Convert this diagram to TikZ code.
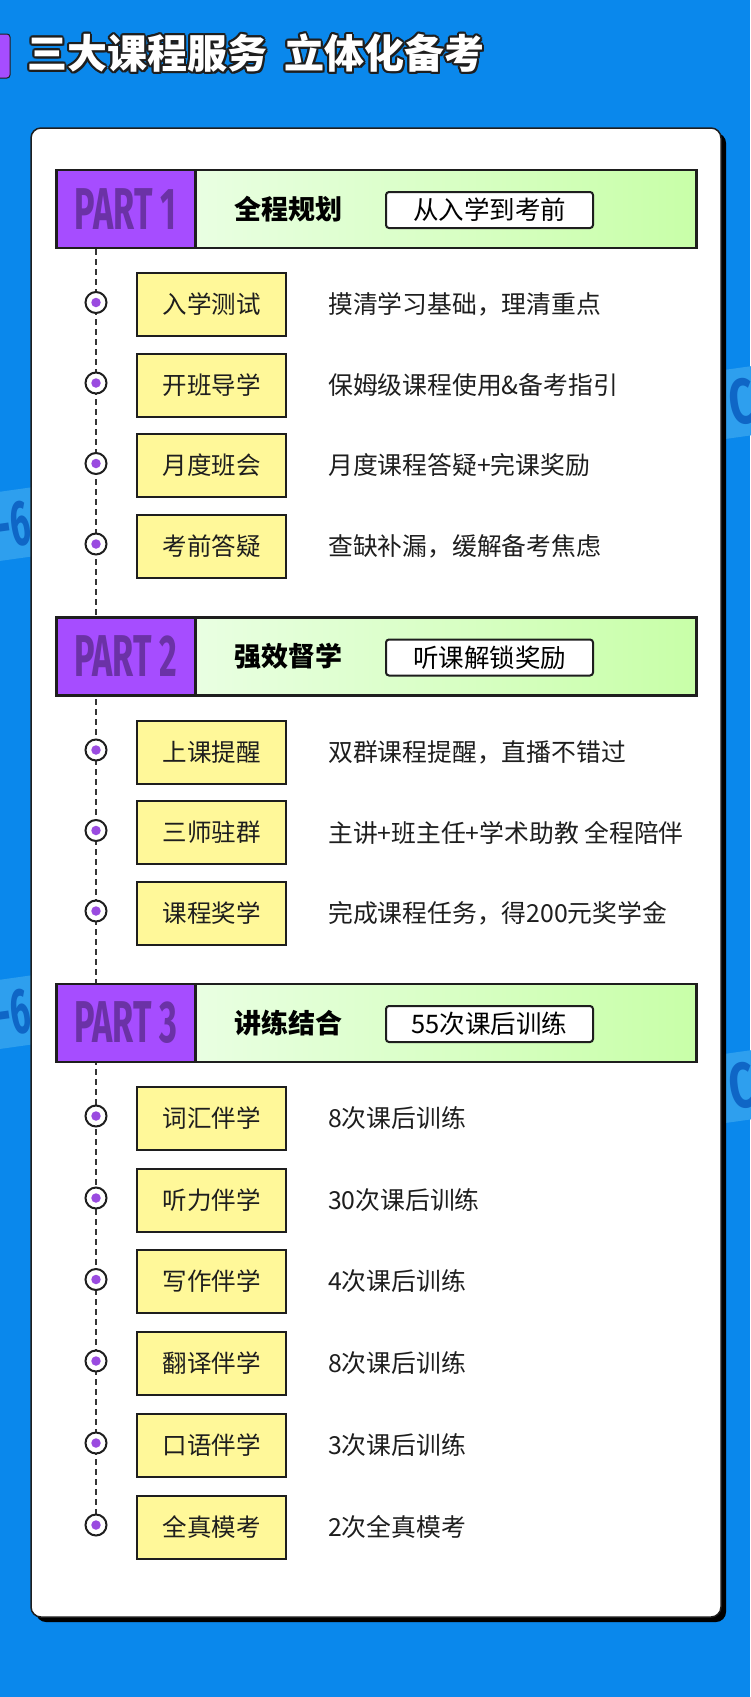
\documentclass[tikz,border=0pt]{standalone}
\usepackage{fontspec}
\usetikzlibrary{calc}
\setmainfont{Noto Sans CJK SC}
\newfontfamily\cjkblack{Noto Sans CJK SC Black}
\newfontfamily\partfont{Fira Sans}
\definecolor{bgblue}{HTML}{0A88EC}
\definecolor{bandblue}{HTML}{2E9FEE}
\definecolor{letterblue}{HTML}{0F66C6}
\definecolor{purp}{HTML}{A64DFF}
\definecolor{partdark}{HTML}{6B32A6}
\definecolor{ink}{HTML}{1E1E1E}
\definecolor{itemyellow}{HTML}{FFF899}
\definecolor{dotpurple}{HTML}{9A4BE0}
\definecolor{greenL}{HTML}{F2FFF2}
\definecolor{greenR}{HTML}{C8FFA8}
\pgfdeclarelayer{bg}
\pgfdeclarelayer{mid}
\pgfsetlayers{bg,mid,main}
\tikzset{
  itembox/.style={draw=ink, line width=2pt, fill=itemyellow, minimum width=149pt, minimum height=63pt, inner sep=0pt, font=\fontsize{24.5}{25}\selectfont, text=ink},
  desc/.style={anchor=west, inner sep=0pt, font=\fontsize{24.8}{25}\selectfont, text=ink},
  bulletout/.style={circle, draw=ink, line width=2pt, fill=white, minimum size=21pt, inner sep=0pt},
  bulletin/.style={circle, fill=dotpurple, minimum size=9.5pt, inner sep=0pt},
  barbox/.style={draw=ink, line width=2.5pt, left color=greenL, right color=greenR, minimum width=640pt, minimum height=78pt, inner sep=0pt},
  partbox/.style={draw=ink, line width=2.5pt, fill=purp, minimum width=139pt, minimum height=78pt, inner sep=0pt},
  parttext/.style={inner sep=0pt, text=partdark, font=\partfont\bfseries\fontsize{59}{59}\selectfont},
  bartitle/.style={anchor=west, inner sep=0pt, font=\bfseries\fontsize{27}{27}\selectfont, text=black},
  tagbox/.style={draw=ink, line width=2pt, fill=white, rounded corners=3pt, minimum width=207pt, minimum height=36pt, inner sep=0pt, font=\fontsize{25.5}{26}\selectfont, text=black},
  dashline/.style={draw=ink!90, line width=2pt, dash pattern=on 6pt off 4pt},
  band/.style={fill=bandblue, text=letterblue, rotate=8, inner xsep=8pt, inner ysep=11pt, font=\partfont\bfseries\fontsize{64}{64}\selectfont},
  titletext/.style={anchor=west, inner sep=0pt, font=\cjkblack\fontsize{40}{40}\selectfont},
}
\newcommand\itemrow[4]{%
  \node[itembox] (box#1) at (211.5,#2) {#3};
  \node[bulletout] (dot#1) at (96,#2-2) {};
  \node[bulletin] (in#1) at (dot#1.center) {};
  \node[desc] (desc#1) at (328,#2) {#4};
}
\newcommand\titlestr{三大课程服务\hspace{17pt}立体化备考}
\begin{document}
\begin{tikzpicture}[x=1pt,y=-1pt]
\useasboundingbox (0,0) rectangle (750,1697);
\begin{pgfonlayer}{bg}
  \fill[bgblue] (0,0) rectangle (750,1697);
  % background stamps
  \node[band, anchor=west] (st1) at (721,405) {\scalebox{0.68}[1]{CET-6}};
  \node[band, anchor=east] (st2) at (38,521) {\scalebox{0.55}[1]{CET-6}};
  \node[band, anchor=east] (st3) at (38,1009) {\scalebox{0.55}[1]{CET-6}};
  \node[band, anchor=west] (st4) at (721,1089) {\scalebox{0.68}[1]{CET-6}};
  % card
  \fill[black, rounded corners=10pt] (36,133) rectangle (726,1622);
  \draw[ink, line width=1.5pt, fill=white, rounded corners=10pt] (31,128) rectangle (721,1617);
\end{pgfonlayer}
% title tab and title
\draw[ink, line width=1pt, fill=purp, rounded corners=3pt] (-6,34) rectangle (10,78);
\node[titletext, text=ink] (tshadow) at (29.5,55.5) {\titlestr};
\foreach \a in {0,30,...,330}{
  \node[titletext, text=ink] (tsh\a) at ($(27,53)+(\a:1.8)$) {\titlestr};
}
\node[titletext, text=white] (title) at (27,53) {\titlestr};

% PART 1
\node[barbox, anchor=west] (bar1) at (55,209) {};
\node[partbox, anchor=west] (part1) at (55,209) {};
\node[parttext] (pt1) at (part1.center) {\scalebox{0.58}[1]{PART 1}};
\node[bartitle] (ttl1) at (234,209) {全程规划};
\node[tagbox] (tag1) at (489.5,210) {从入学到考前};
\itemrow{11}{304.5}{入学测试}{摸清学习基础，理清重点}
\itemrow{12}{385}{开班导学}{保姆级课程使用\&备考指引}
\itemrow{13}{465.5}{月度班会}{月度课程答疑+完课奖励}
\itemrow{14}{546}{考前答疑}{查缺补漏，缓解备考焦虑}

% PART 2
\node[barbox, anchor=west] (bar2) at (55,656.5) {};
\node[partbox, anchor=west] (part2) at (55,656.5) {};
\node[parttext] (pt2) at (part2.center) {\scalebox{0.58}[1]{PART 2}};
\node[bartitle] (ttl2) at (234,656.5) {强效督学};
\node[tagbox] (tag2) at (489.5,657.5) {听课解锁奖励};
\itemrow{21}{752}{上课提醒}{双群课程提醒，直播不错过}
\itemrow{22}{832.5}{三师驻群}{主讲+班主任+学术助教 全程陪伴}
\itemrow{23}{913}{课程奖学}{完成课程任务，得200元奖学金}

% PART 3
\node[barbox, anchor=west] (bar3) at (55,1023) {};
\node[partbox, anchor=west] (part3) at (55,1023) {};
\node[parttext] (pt3) at (part3.center) {\scalebox{0.58}[1]{PART 3}};
\node[bartitle] (ttl3) at (234,1023) {讲练结合};
\node[tagbox] (tag3) at (489.5,1024) {55次课后训练};
\itemrow{31}{1118}{词汇伴学}{8次课后训练}
\itemrow{32}{1200}{听力伴学}{30次课后训练}
\itemrow{33}{1281.5}{写作伴学}{4次课后训练}
\itemrow{34}{1363}{翻译伴学}{8次课后训练}
\itemrow{35}{1445}{口语伴学}{3次课后训练}
\itemrow{36}{1527}{全真模考}{2次全真模考}

% timeline
\begin{pgfonlayer}{mid}
  \draw[dashline] (bar1.south -| dot11.center) -- (dot36.center);
\end{pgfonlayer}
\end{tikzpicture}
\end{document}
